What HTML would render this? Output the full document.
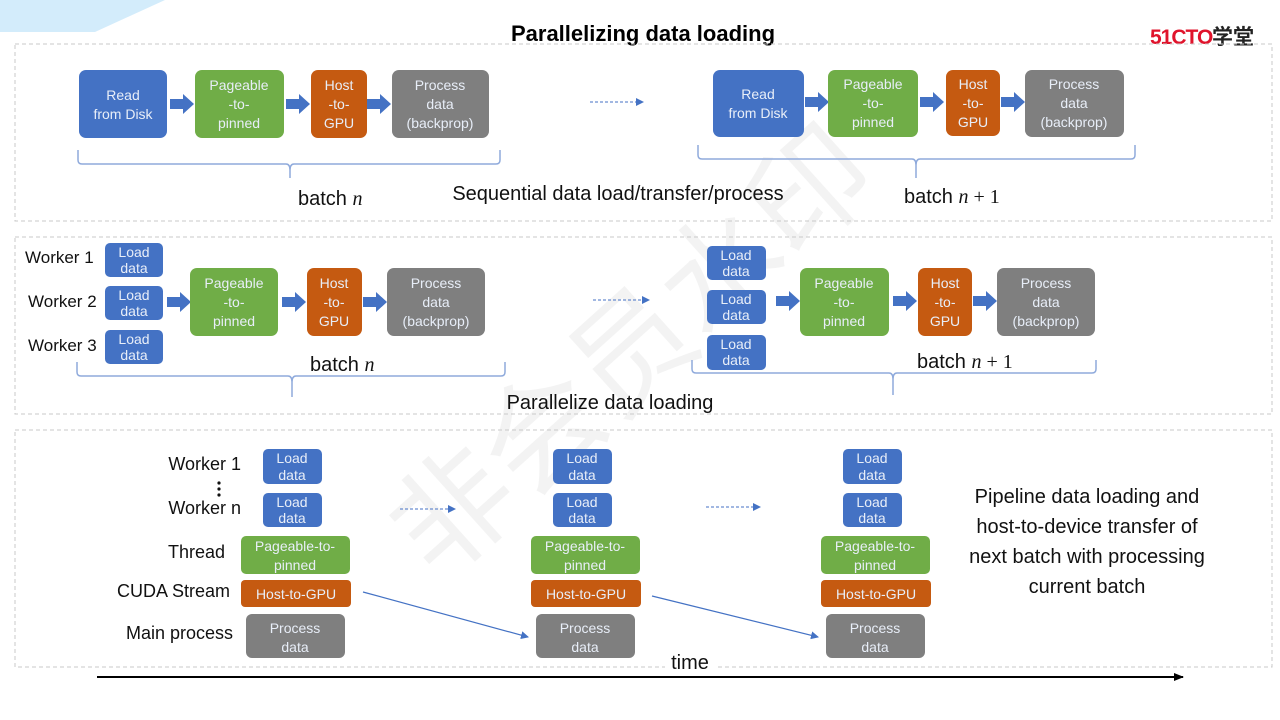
<!DOCTYPE html>
<html><head><meta charset="utf-8"><style>
html,body{margin:0;padding:0;background:#fff;}
svg{display:block;}
.bt{font-family:"Liberation Sans",sans-serif;font-size:14px;fill:#e8eef8;text-anchor:middle;}
.lb{font-family:"Liberation Sans",sans-serif;font-size:17px;fill:#111;}
.lb3{font-family:"Liberation Sans",sans-serif;font-size:18px;fill:#111;text-anchor:end;}
.big{font-family:"Liberation Sans",sans-serif;font-size:20px;fill:#111;}
.mi{font-family:"Liberation Serif",serif;font-style:italic;}
.mr{font-family:"Liberation Serif",serif;}
</style></head><body>
<svg width="1280" height="720" viewBox="0 0 1280 720" xmlns="http://www.w3.org/2000/svg">
<defs>
<marker id="ah" markerWidth="8" markerHeight="8" refX="7" refY="4" orient="auto" markerUnits="userSpaceOnUse"><path d="M0,0 L8,4 L0,8 z" fill="#4472c4"/></marker>
<marker id="ak" markerWidth="10" markerHeight="8" refX="9" refY="4" orient="auto" markerUnits="userSpaceOnUse"><path d="M0,0 L10,4 L0,8 z" fill="#000"/></marker>
<g id="ba"><path d="M0,-5 H13 V-10 L24,0 L13,10 V5 H0 z" fill="#4472c4"/></g>
</defs>
<polygon points="0,0 165,0 95,32 0,32" fill="#d3ecfb"/>
<!-- watermark -->
<text x="640" y="390" transform="rotate(-42 640 360)" font-family="Noto Sans CJK SC,sans-serif" font-size="120" fill="#000" opacity="0.045" text-anchor="middle">非会员水印</text>

<text x="643" y="41" text-anchor="middle" font-family="Liberation Sans,sans-serif" font-weight="bold" font-size="22" fill="#000">Parallelizing data loading</text>
<text x="1150" y="44" font-family="Liberation Sans,Noto Sans CJK SC,sans-serif" font-weight="bold" font-size="21" fill="#e0142c" letter-spacing="-1">51CTO</text>
<text x="1212" y="44" font-family="Noto Sans CJK SC,sans-serif" font-weight="bold" font-size="21" fill="#222">学堂</text>

<g fill="none" stroke="#c8c8c8" stroke-dasharray="4,3" stroke-width="1">
<rect x="15" y="44" width="1257" height="177"/>
<rect x="15" y="237" width="1257" height="177"/>
<rect x="15" y="430" width="1257" height="237"/>
</g>

<!-- Panel 1 -->
<rect x="79" y="70" width="88" height="68" rx="7" fill="#4472c4"/>
<text class="bt"><tspan x="123" y="100">Read</tspan><tspan x="123" y="119">from Disk</tspan></text>
<use href="#ba" x="170" y="104"/>
<rect x="195" y="70" width="89" height="68" rx="7" fill="#70ad47"/>
<text class="bt"><tspan x="239" y="90">Pageable</tspan><tspan x="239" y="109">-to-</tspan><tspan x="239" y="128">pinned</tspan></text>
<use href="#ba" x="286" y="104"/>
<rect x="311" y="70" width="56" height="68" rx="7" fill="#c55a11"/>
<text class="bt"><tspan x="339" y="90">Host</tspan><tspan x="339" y="109">-to-</tspan><tspan x="339" y="128">GPU</tspan></text>
<use href="#ba" x="367" y="104"/>
<rect x="392" y="70" width="97" height="68" rx="7" fill="#7f7f7f"/>
<text class="bt"><tspan x="440" y="90">Process</tspan><tspan x="440" y="109">data</tspan><tspan x="440" y="128">(backprop)</tspan></text>
<line x1="590" y1="102" x2="643" y2="102" stroke="#4472c4" stroke-dasharray="3,2" marker-end="url(#ah)"/>
<rect x="713" y="70" width="91" height="67" rx="7" fill="#4472c4"/>
<text class="bt"><tspan x="758" y="99">Read</tspan><tspan x="758" y="118">from Disk</tspan></text>
<use href="#ba" x="805" y="102"/>
<rect x="828" y="70" width="90" height="67" rx="7" fill="#70ad47"/>
<text class="bt"><tspan x="873" y="89">Pageable</tspan><tspan x="873" y="108">-to-</tspan><tspan x="873" y="127">pinned</tspan></text>
<use href="#ba" x="920" y="102"/>
<rect x="946" y="70" width="54" height="66" rx="7" fill="#c55a11"/>
<text class="bt"><tspan x="973" y="89">Host</tspan><tspan x="973" y="108">-to-</tspan><tspan x="973" y="127">GPU</tspan></text>
<use href="#ba" x="1001" y="102"/>
<rect x="1025" y="70" width="99" height="67" rx="7" fill="#7f7f7f"/>
<text class="bt"><tspan x="1074" y="89">Process</tspan><tspan x="1074" y="108">data</tspan><tspan x="1074" y="127">(backprop)</tspan></text>
<g fill="none" stroke="#8faadc" stroke-width="1.5">
<path d="M78,150 V160 Q78,164 82,164 H286 Q290,164 290,170 V178 M290,170 Q290,164 294,164 H496 Q500,164 500,160 V150"/>
<path d="M698,145 V155 Q698,159 702,159 H912 Q916,159 916,165 V178 M916,165 Q916,159 920,159 H1131 Q1135,159 1135,155 V145"/>
</g>
<text class="big" x="298" y="205">batch <tspan class="mi">n</tspan></text>
<text class="big" x="618" y="200" text-anchor="middle">Sequential data load/transfer/process</text>
<text class="big" x="904" y="203">batch <tspan class="mi">n</tspan><tspan class="mr"> + 1</tspan></text>

<!-- Panel 2 -->
<text class="lb" x="25" y="263">Worker 1</text>
<text class="lb" x="28" y="307">Worker 2</text>
<text class="lb" x="28" y="351">Worker 3</text>
<g>
<rect x="105" y="243" width="58" height="34" rx="5" fill="#4472c4"/><text class="bt" font-size="13"><tspan x="134" y="257">Load</tspan><tspan x="134" y="273">data</tspan></text>
<rect x="105" y="286" width="58" height="34" rx="5" fill="#4472c4"/><text class="bt" font-size="13"><tspan x="134" y="300">Load</tspan><tspan x="134" y="316">data</tspan></text>
<rect x="105" y="330" width="58" height="34" rx="5" fill="#4472c4"/><text class="bt" font-size="13"><tspan x="134" y="344">Load</tspan><tspan x="134" y="360">data</tspan></text>
</g>
<use href="#ba" x="167" y="302"/>
<rect x="190" y="268" width="88" height="68" rx="7" fill="#70ad47"/>
<text class="bt"><tspan x="234" y="288">Pageable</tspan><tspan x="234" y="307">-to-</tspan><tspan x="234" y="326">pinned</tspan></text>
<use href="#ba" x="282" y="302"/>
<rect x="307" y="268" width="55" height="68" rx="7" fill="#c55a11"/>
<text class="bt"><tspan x="334" y="288">Host</tspan><tspan x="334" y="307">-to-</tspan><tspan x="334" y="326">GPU</tspan></text>
<use href="#ba" x="363" y="302"/>
<rect x="387" y="268" width="98" height="68" rx="7" fill="#7f7f7f"/>
<text class="bt"><tspan x="436" y="288">Process</tspan><tspan x="436" y="307">data</tspan><tspan x="436" y="326">(backprop)</tspan></text>
<line x1="593" y1="300" x2="649" y2="300" stroke="#4472c4" stroke-dasharray="3,2" marker-end="url(#ah)"/>
<rect x="707" y="246" width="59" height="34" rx="5" fill="#4472c4"/><text class="bt" font-size="13"><tspan x="736" y="260">Load</tspan><tspan x="736" y="276">data</tspan></text>
<rect x="707" y="290" width="59" height="34" rx="5" fill="#4472c4"/><text class="bt" font-size="13"><tspan x="736" y="304">Load</tspan><tspan x="736" y="320">data</tspan></text>
<rect x="707" y="335" width="59" height="35" rx="5" fill="#4472c4"/><text class="bt" font-size="13"><tspan x="736" y="349">Load</tspan><tspan x="736" y="365">data</tspan></text>
<use href="#ba" x="776" y="301"/>
<rect x="800" y="268" width="89" height="68" rx="7" fill="#70ad47"/>
<text class="bt"><tspan x="844" y="288">Pageable</tspan><tspan x="844" y="307">-to-</tspan><tspan x="844" y="326">pinned</tspan></text>
<use href="#ba" x="893" y="301"/>
<rect x="918" y="268" width="54" height="68" rx="7" fill="#c55a11"/>
<text class="bt"><tspan x="945" y="288">Host</tspan><tspan x="945" y="307">-to-</tspan><tspan x="945" y="326">GPU</tspan></text>
<use href="#ba" x="973" y="301"/>
<rect x="997" y="268" width="98" height="68" rx="7" fill="#7f7f7f"/>
<text class="bt"><tspan x="1046" y="288">Process</tspan><tspan x="1046" y="307">data</tspan><tspan x="1046" y="326">(backprop)</tspan></text>
<g fill="none" stroke="#8faadc" stroke-width="1.5">
<path d="M77,362 V372 Q77,376 81,376 H288 Q292,376 292,382 V397 M292,382 Q292,376 296,376 H501 Q505,376 505,372 V362"/>
<path d="M692,360 V369 Q692,373 696,373 H889 Q893,373 893,379 V395 M893,379 Q893,373 897,373 H1092 Q1096,373 1096,369 V360"/>
</g>
<text class="big" x="310" y="371">batch <tspan class="mi">n</tspan></text>
<text class="big" x="917" y="368">batch <tspan class="mi">n</tspan><tspan class="mr"> + 1</tspan></text>
<text class="big" x="610" y="409" text-anchor="middle">Parallelize data loading</text>

<!-- Panel 3 -->
<text class="lb3" x="241" y="470">Worker 1</text>
<text class="lb3" x="241" y="514">Worker n</text>
<text class="lb3" x="225" y="558">Thread</text>
<text class="lb3" x="230" y="597">CUDA Stream</text>
<text class="lb3" x="233" y="639">Main process</text>
<circle cx="219" cy="483" r="1.6" fill="#111"/><circle cx="219" cy="489" r="1.6" fill="#111"/><circle cx="219" cy="495" r="1.6" fill="#111"/>
<g id="col">
<rect x="263" y="449" width="59" height="35" rx="5" fill="#4472c4"/><text class="bt" font-size="13"><tspan x="292" y="463">Load</tspan><tspan x="292" y="480">data</tspan></text>
<rect x="263" y="493" width="59" height="34" rx="5" fill="#4472c4"/><text class="bt" font-size="13"><tspan x="292" y="507">Load</tspan><tspan x="292" y="523">data</tspan></text>
<rect x="241" y="536" width="109" height="38" rx="5" fill="#70ad47"/><text class="bt" font-size="13.5"><tspan x="295" y="551">Pageable-to-</tspan><tspan x="295" y="570">pinned</tspan></text>
<rect x="241" y="580" width="110" height="27" rx="4" fill="#c55a11"/><text class="bt" font-size="13.5" x="296" y="599">Host-to-GPU</text>
<rect x="246" y="614" width="99" height="44" rx="6" fill="#7f7f7f"/><text class="bt"><tspan x="295" y="633">Process</tspan><tspan x="295" y="652">data</tspan></text>
</g>
<use href="#col" x="290"/>
<use href="#col" x="580"/>
<line x1="400" y1="509" x2="455" y2="509" stroke="#4472c4" stroke-dasharray="3,2" marker-end="url(#ah)"/>
<line x1="706" y1="507" x2="760" y2="507" stroke="#4472c4" stroke-dasharray="3,2" marker-end="url(#ah)"/>
<line x1="363" y1="592" x2="528" y2="637" stroke="#4472c4" stroke-width="1.2" marker-end="url(#ah)"/>
<line x1="652" y1="596" x2="818" y2="637" stroke="#4472c4" stroke-width="1.2" marker-end="url(#ah)"/>
<text class="big" x="1087" y="503" text-anchor="middle">Pipeline data loading and</text>
<text class="big" x="1087" y="533" text-anchor="middle">host-to-device transfer of</text>
<text class="big" x="1087" y="563" text-anchor="middle">next batch with processing</text>
<text class="big" x="1087" y="593" text-anchor="middle">current batch</text>
<rect x="665" y="650" width="50" height="20" fill="#fff"/>
<text class="big" x="690" y="669" text-anchor="middle">time</text>
<line x1="97" y1="677" x2="1183" y2="677" stroke="#000" stroke-width="2" marker-end="url(#ak)"/>
</svg>
</body></html>
